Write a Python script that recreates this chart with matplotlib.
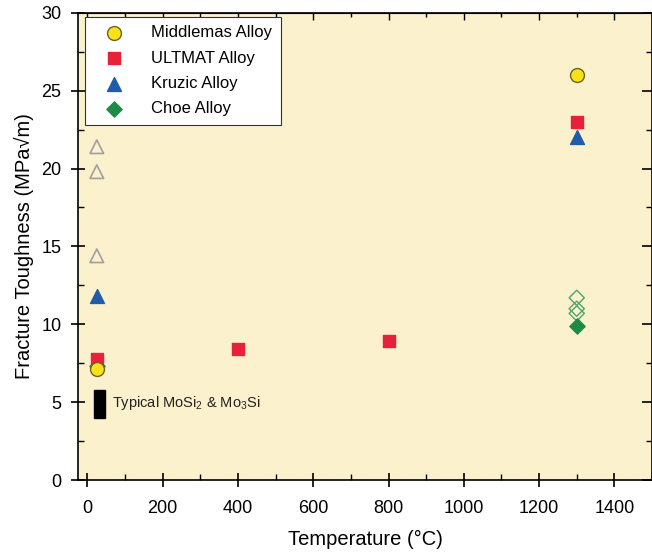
import matplotlib.pyplot as plt
from matplotlib.patches import Rectangle
from matplotlib.ticker import MultipleLocator

plt.rcParams['font.family'] = ['Liberation Sans', 'DejaVu Sans']
plt.rcParams['mathtext.fontset'] = 'custom'
plt.rcParams['mathtext.rm'] = 'Liberation Sans'
plt.rcParams['mathtext.it'] = 'Liberation Sans:italic'

# data
mid_T = [25, 1300]
mid_K = [7.1, 26.0]

ult_T = [25, 400, 800, 1300]
ult_K = [7.8, 8.4, 8.9, 23.0]

kru_T = [25, 1300]
kru_K = [11.8, 22.0]
kru_open_T = [25, 25, 25]
kru_open_K = [21.4, 19.8, 14.4]

choe_T = [25, 1300]
choe_K = [7.3, 9.9]
choe_open_T = [1300, 1300, 1300]
choe_open_K = [11.7, 11.0, 10.7]

# typical MoSi2 & Mo3Si band
typ_T = [17, 48]
typ_K = [4.0, 5.8]

fig = plt.figure(figsize=(6.52, 5.55), dpi=100)
ax = fig.add_axes([0.1196, 0.135, 0.8804, 0.842])
ax.set_facecolor("#FBF1CC")

ax.scatter(kru_open_T, kru_open_K, marker="^", s=95, facecolors="none",
           edgecolors="#A0A0A0", linewidths=1.2, zorder=3)
ax.scatter(choe_open_T, choe_open_K, marker="D", s=60, facecolors="none",
           edgecolors="#4EA56A", linewidths=1.0, zorder=3)
ax.scatter(choe_T, choe_K, marker="D", s=60, color="#1E8A45", zorder=3,
           label="Choe Alloy")
ax.scatter(kru_T, kru_K, marker="^", s=100, color="#1F5CAA", zorder=4,
           label="Kruzic Alloy")
ax.scatter(ult_T, ult_K, marker="s", s=70, color="#E8213A", zorder=4,
           label="ULTMAT Alloy")
ax.scatter(mid_T, mid_K, marker="o", s=100, color="#F7E21A",
           edgecolors="#6B6420", linewidths=1.0, zorder=5,
           label="Middlemas Alloy")

ax.add_patch(Rectangle((typ_T[0], typ_K[0]), typ_T[1] - typ_T[0],
                       typ_K[1] - typ_K[0], color="black", zorder=3))
ax.text(66, 4.95, "Typical MoSi$_2$ & Mo$_3$Si", fontsize=10.5,
        va="center", ha="left", color="#222222")

handles, labels = ax.get_legend_handles_labels()
order = [3, 2, 1, 0]
leg = ax.legend([handles[i] for i in order], [labels[i] for i in order],
                loc="upper left", bbox_to_anchor=(0.006, 0.998),
                fontsize=12, frameon=True, fancybox=False,
                borderpad=0.5, labelspacing=0.62, handletextpad=1.0,
                handlelength=2.5, borderaxespad=0.2)
leg.get_frame().set_edgecolor("#333333")
leg.get_frame().set_linewidth(0.8)
leg.get_frame().set_facecolor("white")
leg.get_frame().set_alpha(1)

ax.set_xlim(-25, 1500)
ax.set_ylim(0, 30)
ax.xaxis.set_major_locator(MultipleLocator(200))
ax.xaxis.set_minor_locator(MultipleLocator(100))
ax.yaxis.set_major_locator(MultipleLocator(5))
ax.yaxis.set_minor_locator(MultipleLocator(2.5))
ax.tick_params(which="major", direction="inout", length=10, width=1.2,
               labelsize=13)
ax.tick_params(axis="x", which="major", pad=9)
ax.tick_params(axis="y", which="major", pad=7)
ax.tick_params(which="minor", direction="in", length=4, width=1.0)

secx = ax.secondary_xaxis("top")
secx.xaxis.set_major_locator(MultipleLocator(200))
secx.xaxis.set_minor_locator(MultipleLocator(100))
secx.tick_params(which="major", direction="in", length=5, width=1.0,
                 labeltop=False)
secx.tick_params(which="minor", direction="in", length=3, width=1.0)
secy = ax.secondary_yaxis("right")
secy.yaxis.set_major_locator(MultipleLocator(5))
secy.yaxis.set_minor_locator(MultipleLocator(2.5))
secy.tick_params(which="major", direction="in", length=7, width=1.2,
                 labelright=False)
secy.tick_params(which="minor", direction="in", length=4, width=1.0)

for s in ax.spines.values():
    s.set_linewidth(1.2)

ax.set_xlabel("Temperature (\u00b0C)", fontsize=14.5, labelpad=10)
ax.set_ylabel("Fracture Toughness (MPa\u221am)", fontsize=14.5, labelpad=5)

fig.savefig("out.png", dpi=100)
